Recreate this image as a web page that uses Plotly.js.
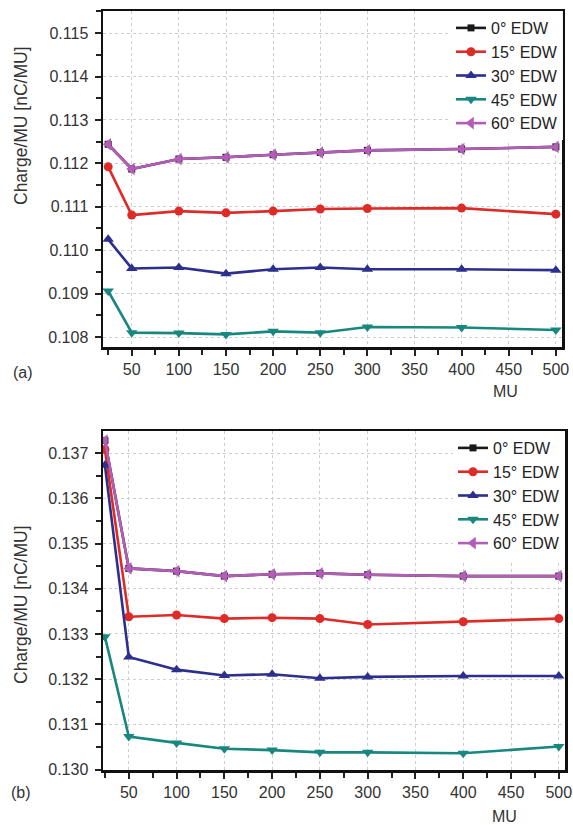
<!DOCTYPE html>
<html>
<head>
<meta charset="utf-8">
<script src="https://cdn.plot.ly/plotly-3.0.1.min.js"></script>
<style>html,body{margin:0;padding:0;background:#fff;}#chart{width:573px;height:825px;}</style>
</head>
<body>
<div id="chart"></div>
<script>
// Monitor units (x values)
const mu = [25, 50, 100, 150, 200, 250, 300, 400, 500];
const seriesNames = ['0° EDW', '15° EDW', '30° EDW', '45° EDW', '60° EDW'];

// Panel (a) Charge/MU [nC/MU]
const a_edw0  = [0.11244, 0.11187, 0.11210, 0.11214, 0.11220, 0.11225, 0.11230, 0.11233, 0.11238];
const a_edw15 = [0.11192, 0.11081, 0.11090, 0.11086, 0.11090, 0.11095, 0.11096, 0.11097, 0.11083];
const a_edw30 = [0.11025, 0.10958, 0.10960, 0.10946, 0.10956, 0.10960, 0.10956, 0.10956, 0.10954];
const a_edw45 = [0.10906, 0.10810, 0.10809, 0.10806, 0.10813, 0.10810, 0.10823, 0.10822, 0.10816];
const a_edw60 = [0.11244, 0.11187, 0.11210, 0.11214, 0.11220, 0.11225, 0.11230, 0.11233, 0.11238];

// Panel (b) Charge/MU [nC/MU]
const b_edw0  = [0.13728, 0.13445, 0.13439, 0.13428, 0.13432, 0.13434, 0.13431, 0.13428, 0.13428];
const b_edw15 = [0.13708, 0.13338, 0.13342, 0.13334, 0.13336, 0.13334, 0.13321, 0.13327, 0.13334];
const b_edw30 = [0.13673, 0.13249, 0.13221, 0.13208, 0.13211, 0.13202, 0.13205, 0.13207, 0.13207];
const b_edw45 = [0.13294, 0.13073, 0.13059, 0.13046, 0.13043, 0.13038, 0.13038, 0.13036, 0.13051];
const b_edw60 = [0.13728, 0.13445, 0.13439, 0.13428, 0.13432, 0.13434, 0.13431, 0.13428, 0.13428];

const xTicks = [50, 100, 150, 200, 250, 300, 350, 400, 450, 500];
const aYTicks = [0.108, 0.109, 0.110, 0.111, 0.112, 0.113, 0.114, 0.115];
const bYTicks = [0.130, 0.131, 0.132, 0.133, 0.134, 0.135, 0.136, 0.137];

const colors = ['#1a1a1a', '#dd2b27', '#2c2f8e', '#17877f', '#b35cb8'];
const symbols = ['square', 'circle', 'triangle-up', 'triangle-down', 'triangle-left'];
const msizes = [7, 9, 10, 10, 11];

const W = 573, H = 825;
const FONT = 'Liberation Sans, Arial, Helvetica, sans-serif';

function mk(ys, i, xa, ya, leg) {
  return {
    x: mu, y: ys, type: 'scatter', mode: 'lines+markers',
    name: seriesNames[i], xaxis: xa, yaxis: ya, legend: leg,
    line: {color: colors[i], width: 2.6},
    marker: {symbol: symbols[i], size: msizes[i], color: colors[i]}
  };
}
const aSets = [a_edw0, a_edw15, a_edw30, a_edw45, a_edw60];
const bSets = [b_edw0, b_edw15, b_edw30, b_edw45, b_edw60];
const traces = [];
aSets.forEach((s, i) => traces.push(mk(s, i, 'x', 'y', 'legend')));
bSets.forEach((s, i) => traces.push(mk(s, i, 'x2', 'y2', 'legend2')));

function xax(domain, range, anchor) {
  return {
    domain: domain, range: range, anchor: anchor,
    tickvals: xTicks, ticktext: xTicks.map(String),
    ticks: 'outside', ticklen: 6, tickwidth: 2, tickcolor: '#222',
    minor: {dtick: 25, tick0: 0, ticks: 'outside', ticklen: 5, tickwidth: 2, tickcolor: '#222', showgrid: false},
    showline: true, linecolor: '#111', linewidth: 2.5, mirror: true,
    showgrid: true, gridcolor: '#cfcfcf', griddash: 'dot', gridwidth: 1,
    zeroline: false,
    tickfont: {family: FONT, size: 16, color: '#333'}
  };
}
function yax(domain, range, anchor, ticks) {
  return {
    domain: domain, range: range, anchor: anchor,
    tickvals: ticks, ticktext: ticks.map(v => v.toFixed(3)),
    ticks: 'outside', ticklen: 6, tickwidth: 2, tickcolor: '#222',
    ticklabelstandoff: 3,
    minor: {dtick: 0.0005, tick0: 0, ticks: 'outside', ticklen: 5, tickwidth: 2, tickcolor: '#222', showgrid: false},
    showline: true, linecolor: '#111', linewidth: 2.5, mirror: true,
    showgrid: true, gridcolor: '#cfcfcf', griddash: 'dot', gridwidth: 1,
    zeroline: false,
    tickfont: {family: FONT, size: 16, color: '#333'}
  };
}

const legendCommon = {
  bgcolor: 'rgba(255,255,255,0.95)', borderwidth: 0,
  font: {family: FONT, size: 16, color: '#222'},
  xanchor: 'left', yanchor: 'top', tracegroupgap: 0,
  itemclick: false
};

function ann(text, x, y, size, angle) {
  return {text: text, xref: 'paper', yref: 'paper', x: x / W, y: 1 - y / H,
    xanchor: 'center', yanchor: 'middle', textangle: angle || 0, showarrow: false,
    font: {family: FONT, size: size, color: '#333'}};
}

const layout = {
  width: W, height: H,
  margin: {l: 0, r: 0, t: 0, b: 0},
  paper_bgcolor: '#fff', plot_bgcolor: '#fff',
  showlegend: true,
  xaxis: xax([103 / W, 562 / W], [19.5, 506.5], 'y'),
  yaxis: yax([1 - 347 / H, 1 - 11 / H], [0.10777, 0.11551], 'x', aYTicks),
  xaxis2: xax([103 / W, 565 / W], [23, 506.5], 'y2'),
  yaxis2: yax([1 - 770 / H, 1 - 431 / H], [0.12999, 0.13749], 'x2', bYTicks),
  legend: Object.assign({x: 451 / W, y: 1 - 11 / H}, legendCommon),
  legend2: Object.assign({x: 453 / W, y: 1 - 431 / H}, legendCommon),
  annotations: [
    ann('Charge/MU [nC/MU]', 21, 126, 17.5, -90),
    ann('Charge/MU [nC/MU]', 21, 605, 17.5, -90),
    ann('MU', 505, 392, 16),
    ann('MU', 504, 816, 16),
    ann('(a)', 23, 372, 16),
    ann('(b)', 21, 792, 16)
  ]
};

Plotly.newPlot('chart', traces, layout, {displayModeBar: false, staticPlot: true});
</script>
</body>
</html>
